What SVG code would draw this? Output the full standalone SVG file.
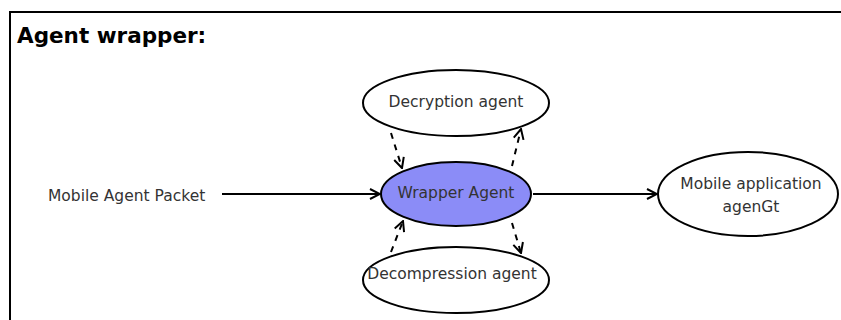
<svg xmlns="http://www.w3.org/2000/svg" width="841" height="320" viewBox="0 0 841 320">
  <style>
    .node { fill: #ffffff; stroke: #000000; stroke-width: 2; }
    .node.main { fill: #8b8cf7; }
    .label { font-family: "DejaVu Sans", sans-serif; font-size: 15.5px; fill: #333333; text-anchor: middle; }
    .plain { font-family: "DejaVu Sans", sans-serif; font-size: 15.5px; fill: #333333; }
    .title { font-family: "DejaVu Sans", sans-serif; font-size: 21.5px; font-weight: bold; fill: #000000; }
    .flow { stroke: #000000; stroke-width: 2; fill: none; marker-end: url(#open); }
    .aux { stroke: #000000; stroke-width: 2; fill: none; stroke-dasharray: 6 6; marker-end: url(#open); }
  </style>
  <defs>
    <marker id="open" viewBox="0 0 12 12" refX="11" refY="6" markerWidth="12" markerHeight="12" markerUnits="userSpaceOnUse" orient="auto">
      <path d="M1,1 L11,6 L1,11" fill="none" stroke="#000000" stroke-width="2"/>
    </marker>
  </defs>

  <rect width="841" height="320" fill="#ffffff"/>

  <!-- frame -->
  <g id="frame">
    <path d="M10,320 L10,12 L841,12" fill="none" stroke="#000000" stroke-width="2"/>
    <text class="title" x="17" y="43">Agent wrapper:</text>
  </g>

  <!-- connectors -->
  <g id="connectors">
    <line class="flow" x1="222" y1="194" x2="380" y2="194"/>
    <line class="flow" x1="533" y1="194" x2="657" y2="194"/>
    <line class="aux" x1="391" y1="133" x2="402" y2="168"/>
    <line class="aux" x1="512" y1="166" x2="521" y2="129"/>
    <line class="aux" x1="391" y1="252" x2="403" y2="221"/>
    <line class="aux" x1="512" y1="223" x2="521" y2="253"/>
  </g>

  <g id="packet">
    <text class="plain" x="48" y="201">Mobile Agent Packet</text>
  </g>

  <g id="decryption">
    <ellipse class="node" cx="456" cy="103" rx="93" ry="33"/>
    <text class="label" x="456" y="107">Decryption agent</text>
  </g>

  <g id="wrapper">
    <ellipse class="node main" cx="456" cy="194" rx="75" ry="32"/>
    <text class="label" x="456" y="198">Wrapper Agent</text>
  </g>

  <g id="decompression">
    <ellipse class="node" cx="456" cy="280" rx="93" ry="33"/>
    <text class="label" x="452" y="279">Decompression agent</text>
  </g>

  <g id="application">
    <ellipse class="node" cx="748" cy="194" rx="90" ry="42"/>
    <text class="label" x="751" y="189">Mobile application</text>
    <text class="label" x="751" y="212">agenGt</text>
  </g>
</svg>
